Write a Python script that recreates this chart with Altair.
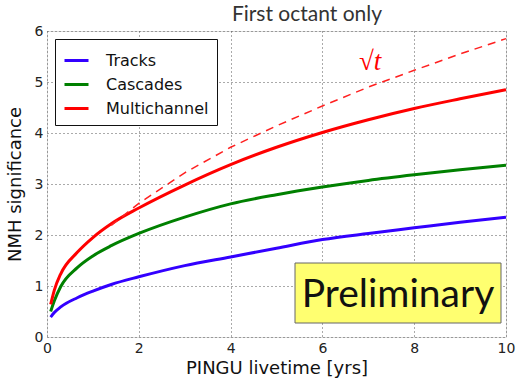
import altair as alt
import pandas as pd

# ---- data ----
t_years = [0.08, 0.16, 0.3, 0.66, 1.0, 1.4, 2, 3, 4, 5, 6, 7, 8, 9, 10]
tracks = [0.39, 0.48, 0.59, 0.77, 0.90, 1.03, 1.18, 1.40, 1.57, 1.74, 1.91, 2.03, 2.14, 2.25, 2.35]
cascades = [0.50, 0.71, 0.99, 1.36, 1.59, 1.79, 2.03, 2.35, 2.61, 2.79, 2.94, 3.07, 3.18, 3.28, 3.37]
multichannel = [0.64, 0.92, 1.24, 1.66, 1.95, 2.22, 2.53, 2.98, 3.38, 3.72, 4.01, 4.26, 4.48, 4.67, 4.85]

sqrt_t = [1.4, 2, 3, 4, 5, 6, 7, 8, 9, 10]
sqrt_vals = [2.19, 2.62, 3.22, 3.72, 4.14, 4.53, 4.90, 5.23, 5.55, 5.85]

series_names = ["Tracks", "Cascades", "Multichannel"]
series_colors = ["#3300ff", "#008000", "#ff0000"]

rows = []
for name, vals in zip(series_names, [tracks, cascades, multichannel]):
    for t, v in zip(t_years, vals):
        rows.append({"t": t, "sig": v, "series": name})
df = pd.DataFrame(rows)
df_sqrt = pd.DataFrame({"t": sqrt_t, "sig": sqrt_vals})

W, H = 459, 306

xscale = alt.Scale(domain=[0, 10], nice=False)
yscale = alt.Scale(domain=[0, 6], nice=False)

lines = alt.Chart(df).mark_line(strokeWidth=3, interpolate="monotone").encode(
    x=alt.X("t:Q", scale=xscale,
            axis=alt.Axis(title="PINGU livetime [yrs]", values=[0, 2, 4, 6, 8, 10],
                          format="d", labelFontSize=14, titleFontSize=18,
                          labelFont="DejaVu Sans", titleFont="DejaVu Sans",
                          titleFontWeight="normal", labelColor="#222", titleColor="#111",
                          ticks=False, labelPadding=4, titlePadding=4,
                          grid=True, gridDash=[1, 3], gridColor="#555", gridWidth=1,
                          domain=False, labelFlush=False)),
    y=alt.Y("sig:Q", scale=yscale,
            axis=alt.Axis(title="NMH significance", values=[0, 1, 2, 3, 4, 5, 6],
                          labelFontSize=14, titleFontSize=18,
                          labelFont="DejaVu Sans", titleFont="DejaVu Sans",
                          titleFontWeight="normal", labelColor="#222", titleColor="#111",
                          ticks=False, labelPadding=4, titlePadding=10,
                          grid=True, gridDash=[1, 3], gridColor="#555", gridWidth=1,
                          domain=False, labelFlush=False)),
    color=alt.Color("series:N",
                    scale=alt.Scale(domain=series_names, range=series_colors),
                    sort=series_names,
                    legend=alt.Legend(title=None, orient="none", legendX=8, legendY=8,
                                      symbolType="stroke", symbolStrokeWidth=3,
                                      symbolSize=576, labelFontSize=16,
                                      labelFont="DejaVu Sans", labelColor="#111",
                                      labelOffset=16, rowPadding=2,
                                      padding=8, strokeColor="#111", fillColor="white",
                                      cornerRadius=0)),
)

dashed = alt.Chart(df_sqrt).mark_line(strokeWidth=1.5, strokeDash=[8, 6], color="#ff2020").encode(
    x=alt.X("t:Q", scale=xscale),
    y=alt.Y("sig:Q", scale=yscale),
)

ann = pd.DataFrame({"label": ["Preliminary"]})
box = alt.Chart(ann).mark_rect(fill="#ffff70", stroke="#666", strokeWidth=1).encode(
    x=alt.value(248), x2=alt.value(454), y=alt.value(232), y2=alt.value(292)
)
prelim = alt.Chart(ann).mark_text(font="Lato", fontSize=39, color="#111",
                                  align="center", baseline="middle").encode(
    x=alt.value(351), y=alt.value(264), text="label:N"
)

sq = pd.DataFrame({"label": ["√t"]})
sqrt_label = alt.Chart(sq).mark_text(font="Liberation Serif", fontStyle="italic", fontSize=27,
                                     color="#ff0000", align="left", baseline="middle").encode(
    x=alt.value(312), y=alt.value(31), text="label:N"
)

ttl = pd.DataFrame({"label": ["First octant only"]})
title_text = alt.Chart(ttl).mark_text(font="Lato", fontSize=21, color="#333",
                                      align="center", baseline="middle").encode(
    x=alt.value(260), y=alt.value(-16), text="label:N"
)

chart = alt.layer(lines, dashed, box, prelim, sqrt_label, title_text).properties(
    width=W, height=H,
    autosize=alt.AutoSizeParams(type="none"),
    padding={"left": 47, "top": 31, "right": 11, "bottom": 42},
).configure_view(stroke="#111", strokeWidth=1.5).configure(background="white")

chart.save("out.html", embed_options={"renderer": "svg", "actions": False})
